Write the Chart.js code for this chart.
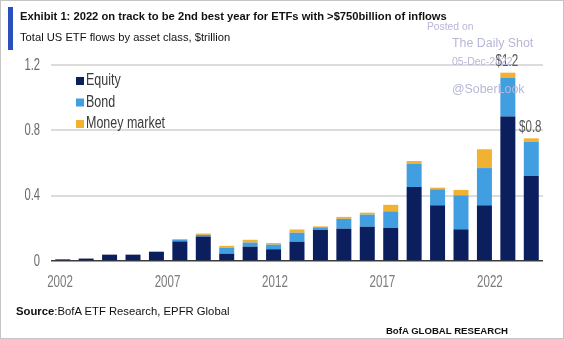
<!DOCTYPE html>
<html>
<head>
<meta charset="utf-8">
<script src="https://cdn.jsdelivr.net/npm/chart.js@4.4.1/dist/chart.umd.min.js"></script>
<style>
  html, body { margin: 0; padding: 0; background: #fff; }
  #page { position: relative; width: 564px; height: 339px; overflow: hidden; font-family: 'Liberation Sans', Arial, sans-serif; }
  #frame { position: absolute; left: 0; top: 0; width: 564px; height: 339px; box-sizing: border-box; border: 1px solid #c4c4c4; pointer-events: none; }
  #accent { position: absolute; left: 8px; top: 7px; width: 5px; height: 43px; background: #2b4fbf; }
  .txt { position: absolute; white-space: nowrap; line-height: 1; }
  #title { left: 20px; top: 11px; font-size: 11.2px; font-weight: bold; color: #111; }
  #subtitle { left: 20px; top: 32px; font-size: 11.2px; color: #111; }
  #source { left: 16px; top: 306px; font-size: 11.3px; color: #111; }
  #brand { right: 56px; top: 326px; font-size: 9.6px; font-weight: bold; color: #111; }
  .stamp { color: #b7b7d6; }
  #chart { position: absolute; left: 0; top: 0; }
</style>
</head>
<body>
<div id="page">
  <canvas id="chart" width="564" height="339"></canvas>
  <div id="accent"></div>
  <div class="txt" id="title">Exhibit 1: 2022 on track to be 2nd best year for ETFs with &gt;$750billion of inflows</div>
  <div class="txt" id="subtitle">Total US ETF flows by asset class, $trillion</div>
  <div class="txt stamp" style="left:427px;top:22px;font-size:10.3px;">Posted on</div>
  <div class="txt stamp" style="left:452px;top:37px;font-size:12.4px;">The Daily Shot</div>
  <div class="txt stamp" style="left:452px;top:56px;font-size:10.5px;">05-Dec-2022</div>
  <div class="txt stamp" style="left:452px;top:83px;font-size:12.4px;">@SoberLook</div>
  <div class="txt" id="source"><b>Source</b>:BofA ETF Research, EPFR Global</div>
  <div class="txt" id="brand">BofA GLOBAL RESEARCH</div>
  <div id="frame"></div>
</div>
<script>
// Annual US ETF flows, $trillion
var years = ['2002', '2003', '2004', '2005', '2006', '2007', '2008', '2009', '2010', '2011', '2012',
             '2013', '2014', '2015', '2016', '2017', '2018', '2019', '2020', '2021', '2022'];
var equity = [0.010, 0.015, 0.039, 0.039, 0.057, 0.120, 0.150, 0.045, 0.088, 0.072, 0.118,
              0.190, 0.198, 0.210, 0.202, 0.453, 0.341, 0.194, 0.341, 0.884, 0.520];
var bond = [0, 0, 0, 0, 0, 0.010, 0.010, 0.035, 0.025, 0.028, 0.055,
            0.016, 0.060, 0.074, 0.102, 0.141, 0.098, 0.208, 0.228, 0.239, 0.209];
var moneyMarket = [0, 0, 0, 0, 0, 0.005, 0.008, 0.013, 0.017, 0.010, 0.020,
                   0.006, 0.012, 0.012, 0.040, 0.018, 0.010, 0.033, 0.115, 0.030, 0.022];
var yearTicks = [2002, 2007, 2012, 2017, 2022];
var yTicks = [0, 0.4, 0.8, 1.2];
var labelledYears = ['2021', '2022'];

var series = [
    {label: 'Equity', data: equity, color: '#0b1f5f'},
    {label: 'Bond', data: bond, color: '#419fe1'},
    {label: 'Money market', data: moneyMarket, color: '#f1b232'}
];

function total(i) {
    return equity[i] + bond[i] + moneyMarket[i];
}

// squeezed text, the chart uses a narrow face for all of its labels
function narrowText(ctx, text, x, y, opts) {
    ctx.save();
    ctx.translate(x, y);
    ctx.scale(opts.squeeze || 0.7, 1);
    ctx.font = (opts.size || 17) + 'px "Liberation Sans", Arial, sans-serif';
    ctx.fillStyle = opts.color;
    ctx.textAlign = opts.align || 'left';
    ctx.textBaseline = opts.baseline || 'middle';
    ctx.fillText(text, 0, 0);
    ctx.restore();
}

// axis labels, placed from the chart's own scales
var axisLabels = {
    id: 'axisLabels',
    afterDraw: function(chart) {
        var ctx = chart.ctx, y = chart.scales.y, x2 = chart.scales.x2;
        y.ticks.forEach(function(t) {
            var txt = t.value === 0 ? '0' : t.value.toFixed(1);
            narrowText(ctx, txt, chart.chartArea.left - 11, y.getPixelForValue(t.value),
                       {align: 'right', color: '#6a6a6a', squeeze: 0.66});
        });
        x2.ticks.forEach(function(t) {
            narrowText(ctx, String(t.value), x2.getPixelForValue(t.value), chart.chartArea.bottom + 21,
                       {align: 'center', color: '#7a7a7a', squeeze: 0.68});
        });
    }
};

// legend drawn inside the plot, top left
var insideLegend = {
    id: 'insideLegend',
    afterDraw: function(chart) {
        var ctx = chart.ctx, x = 76, y = 81;
        series.forEach(function(s, i) {
            ctx.fillStyle = s.color;
            ctx.fillRect(x, y + i * 21.5 - 4, 8, 8);
            narrowText(ctx, s.label, x + 10, y + i * 21.5, {size: 16, color: '#3a3a3a', squeeze: 0.78});
        });
    }
};

// "$x.x" totals above the last two bars
var totalLabels = {
    id: 'totalLabels',
    afterDatasetsDraw: function(chart) {
        var top = chart.getDatasetMeta(series.length - 1);
        labelledYears.forEach(function(yr) {
            var i = years.indexOf(yr), bar = top.data[i];
            narrowText(chart.ctx, '$' + total(i).toFixed(1), bar.x - 1, bar.y - 3,
                       {align: 'center', baseline: 'bottom', color: '#5a5a5a', squeeze: 0.68});
        });
    }
};

new Chart(document.getElementById('chart'), {
    type: 'bar',
    data: {
        labels: years,
        datasets: series.map(function(s) {
            return {label: s.label, data: s.data, backgroundColor: s.color,
                    barPercentage: 0.64, categoryPercentage: 1};
        })
    },
    options: {
        responsive: false,
        animation: false,
        devicePixelRatio: 1,
        layout: {padding: {top: 65, right: 21, bottom: 48, left: 0}},
        plugins: {legend: {display: false}, tooltip: {enabled: false}},
        scales: {
            x: {stacked: true, display: false},
            // year labels sit on their own axis, spaced independently of the bars
            x2: {
                type: 'linear',
                position: 'bottom',
                offset: false,
                min: 2001.58,
                max: 2024.47,
                grid: {display: false, offset: false},
                border: {display: false},
                afterBuildTicks: function(axis) {
                    axis.ticks = yearTicks.map(function(v) { return {value: v}; });
                },
                afterFit: function(axis) { axis.height = 30; },
                ticks: {display: false}
            },
            y: {
                stacked: true,
                min: 0,
                max: 1.2,
                border: {display: false},
                afterBuildTicks: function(axis) {
                    axis.ticks = yTicks.map(function(v) { return {value: v}; });
                },
                afterFit: function(axis) { axis.width = 51; },
                grid: {
                    drawTicks: false,
                    lineWidth: function(c) { return c.tick.value === 0 ? 1.5 : 2; },
                    color: function(c) { return c.tick.value === 0 ? '#3c3c3c' : '#dcdcdc'; }
                },
                ticks: {display: false}
            }
        }
    },
    plugins: [axisLabels, insideLegend, totalLabels]
});
</script>
</body>
</html>
